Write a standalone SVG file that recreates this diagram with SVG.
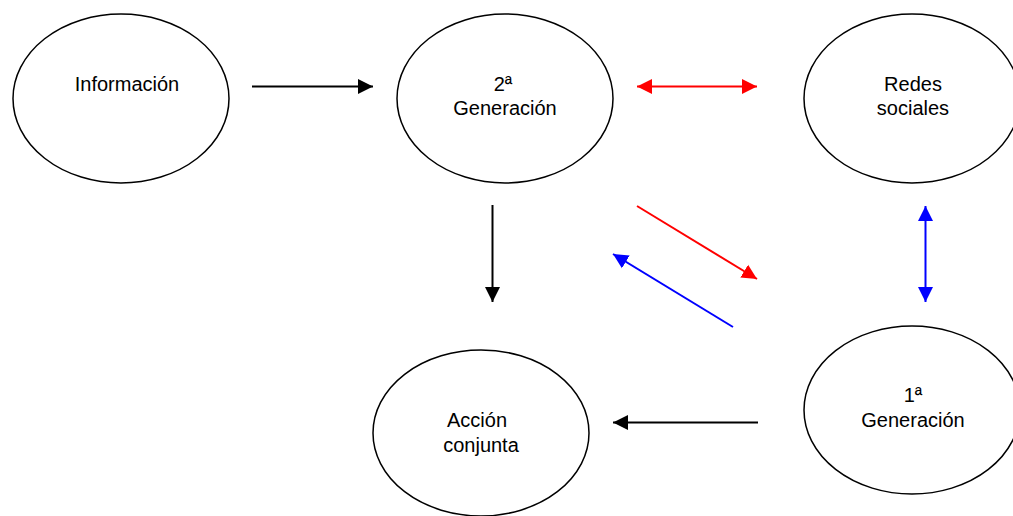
<svg xmlns="http://www.w3.org/2000/svg" width="1013" height="516" viewBox="0 0 1013 516">
<style>
.node ellipse{fill:#fff;stroke:#000;stroke-width:1.5}
.node text{font-family:"Liberation Sans",Arial,sans-serif;font-size:20px;fill:#000;text-anchor:middle}
.k{stroke:#000;stroke-width:2;fill:none}
.r{stroke:#f00;stroke-width:2;fill:none}
.b{stroke:#00f;stroke-width:2;fill:none}
</style>
<defs>
<marker id="ak" viewBox="0 0 10 10" refX="10" refY="5" markerUnits="userSpaceOnUse" markerWidth="15" markerHeight="16" orient="auto-start-reverse"><path d="M0,0L10,5L0,10z" fill="#000"/></marker>
<marker id="ar" viewBox="0 0 10 10" refX="10" refY="5" markerUnits="userSpaceOnUse" markerWidth="15" markerHeight="16" orient="auto-start-reverse"><path d="M0,0L10,5L0,10z" fill="#f00"/></marker>
<marker id="ab" viewBox="0 0 10 10" refX="10" refY="5" markerUnits="userSpaceOnUse" markerWidth="15" markerHeight="16" orient="auto-start-reverse"><path d="M0,0L10,5L0,10z" fill="#00f"/></marker>
</defs>
<rect width="1013" height="516" fill="#fff"/>
<g id="informacion" class="node"><ellipse cx="121" cy="98.5" rx="108" ry="84.5"/><text x="127" y="91">Información</text></g>
<g id="gen2" class="node"><ellipse cx="505" cy="98.5" rx="108" ry="84.5"/><text x="503" y="91">2ª</text><text x="505" y="115">Generación</text></g>
<g id="redes" class="node"><ellipse cx="912" cy="98.5" rx="108" ry="84.5"/><text x="913" y="91">Redes</text><text x="913" y="115">sociales</text></g>
<g id="gen1" class="node"><ellipse cx="912" cy="410" rx="108" ry="84"/><text x="913" y="402">1ª</text><text x="913" y="427">Generación</text></g>
<g id="accion" class="node"><ellipse cx="481" cy="433" rx="108" ry="83"/><text x="477" y="427">Acción</text><text x="481" y="452">conjunta</text></g>
<g id="connectors">
<line class="k" x1="252" y1="86.5" x2="373" y2="86.5" marker-end="url(#ak)"/>
<line class="r" x1="637" y1="86.5" x2="757" y2="86.5" marker-start="url(#ar)" marker-end="url(#ar)"/>
<line class="k" x1="492.5" y1="205" x2="492.5" y2="302" marker-end="url(#ak)"/>
<line class="r" x1="637" y1="206" x2="757" y2="279" marker-end="url(#ar)"/>
<line class="b" x1="733" y1="327" x2="613" y2="254" marker-end="url(#ab)"/>
<line class="b" x1="925.5" y1="206" x2="925.5" y2="302" marker-start="url(#ab)" marker-end="url(#ab)"/>
<line class="k" x1="758" y1="422.5" x2="613" y2="422.5" marker-end="url(#ak)"/>
</g>
</svg>
